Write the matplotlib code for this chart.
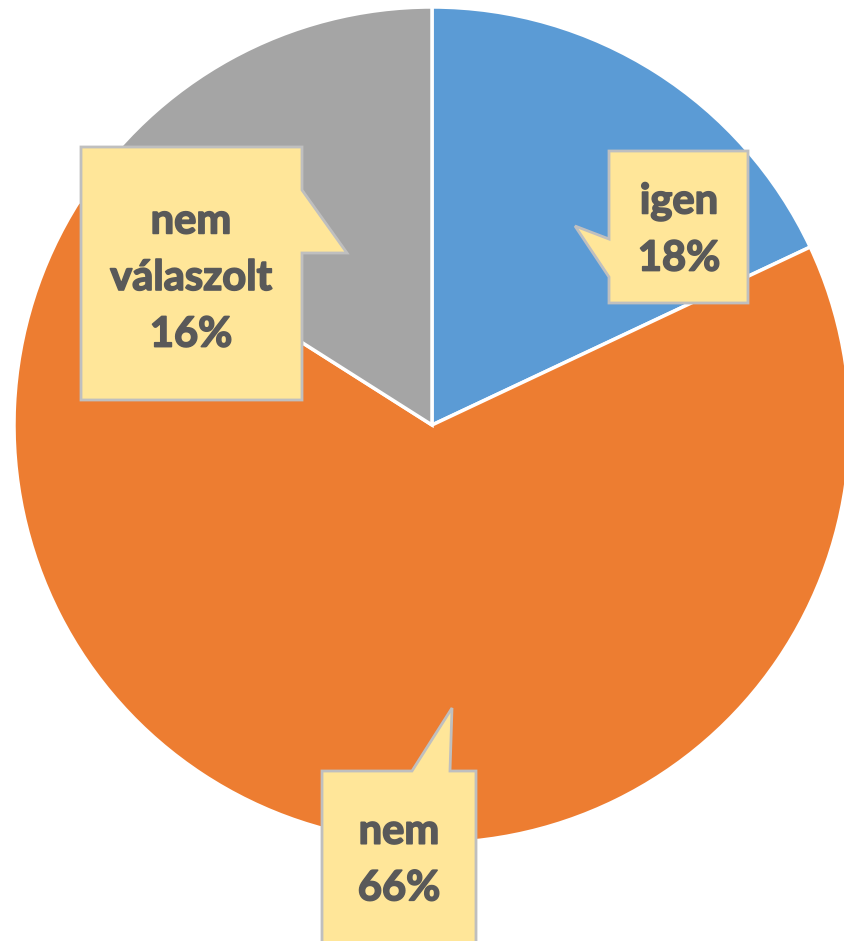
import matplotlib.pyplot as plt
import matplotlib.patheffects as pe
from matplotlib.patches import Polygon

labels = ['igen', 'nem', 'nem\nválaszolt']
values = [18, 66, 16]
colors = ['#5B9BD5', '#ED7D31', '#A5A5A5']

W, H = 844, 941

fig = plt.figure(figsize=(W / 100, H / 100), dpi=100)
ax = fig.add_axes([0, 0, 1, 1])

ax.pie(values, colors=colors, startangle=90, counterclock=False,
       center=(432, H - 425), radius=418, frame=True,
       wedgeprops=dict(edgecolor='white', linewidth=2.5))
ax.set_xlim(0, W)
ax.set_ylim(0, H)
ax.axis('off')

# callout shapes in pixel coords (x, y from top)
callouts = [
    [(609, 151), (748, 151), (748, 303), (609, 303), (609, 277), (575, 226), (609, 239)],
    [(322, 771), (412, 771), (452, 708), (450, 771), (476, 771), (476, 960), (322, 960)],
    [(81, 147), (302, 147), (302, 190), (347, 253), (302, 253), (302, 400), (81, 400)],
]
text_pos = [(679, 230), (399, 860), (191, 278)]

for pts, (tx, ty), lab, v in zip(callouts, text_pos, labels, values):
    poly = Polygon([(x, H - y) for x, y in pts], closed=True,
                   facecolor='#FFE699', edgecolor='#BFBFBF', linewidth=2, zorder=5)
    ax.add_patch(poly)
    ax.text(tx, H - ty, f'{lab}\n{v}%', ha='center', va='center',
            fontsize=30, fontweight='bold', color='#595959', family='Lato',
            linespacing=1.6, zorder=6,
            path_effects=[pe.withStroke(linewidth=1.2, foreground='#595959')])

fig.savefig('out.png', dpi=100)
